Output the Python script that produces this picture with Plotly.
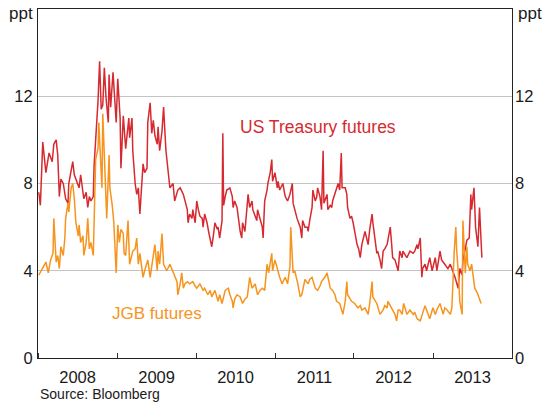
import pandas as pd
import plotly.graph_objects as go

# Dates as decimal years, values in percentage points
us_dates = [2008.01, 2008.03, 2008.06, 2008.10, 2008.14, 2008.18, 2008.20, 2008.23, 2008.25, 2008.27,
            2008.29, 2008.32, 2008.35, 2008.38, 2008.39, 2008.44, 2008.46, 2008.49, 2008.52, 2008.54,
            2008.58, 2008.61, 2008.63, 2008.65, 2008.67, 2008.70, 2008.71, 2008.73, 2008.76, 2008.78,
            2008.80, 2008.82, 2008.84, 2008.86, 2008.89, 2008.90, 2008.92, 2008.95, 2008.96, 2008.99,
            2009.01, 2009.04, 2009.05, 2009.08, 2009.11, 2009.14, 2009.15, 2009.16, 2009.19, 2009.20,
            2009.23, 2009.25, 2009.27, 2009.29, 2009.32, 2009.33, 2009.35, 2009.38, 2009.39, 2009.42,
            2009.44, 2009.46, 2009.48, 2009.51, 2009.52, 2009.54, 2009.57, 2009.59, 2009.62, 2009.65,
            2009.67, 2009.71, 2009.73, 2009.77, 2009.80, 2009.84, 2009.86, 2009.89, 2009.90, 2009.92,
            2009.95, 2009.96, 2009.99, 2010.01, 2010.03, 2010.05, 2010.08, 2010.09, 2010.11, 2010.14,
            2010.16, 2010.18, 2010.20, 2010.22, 2010.24, 2010.27, 2010.28, 2010.30, 2010.33, 2010.34,
            2010.35, 2010.37, 2010.39, 2010.43, 2010.46, 2010.47, 2010.49, 2010.52, 2010.54, 2010.56,
            2010.58, 2010.59, 2010.62, 2010.66, 2010.68, 2010.71, 2010.72, 2010.75, 2010.77, 2010.78,
            2010.81, 2010.84, 2010.85, 2010.87, 2010.90, 2010.91, 2010.94, 2010.96, 2010.97, 2011.00,
            2011.03, 2011.04, 2011.06, 2011.10, 2011.13, 2011.16, 2011.19, 2011.22, 2011.23, 2011.25,
            2011.28, 2011.32, 2011.34, 2011.35, 2011.38, 2011.41, 2011.42, 2011.44, 2011.47, 2011.48,
            2011.51, 2011.53, 2011.54, 2011.57, 2011.59, 2011.61, 2011.62, 2011.66, 2011.67, 2011.70,
            2011.72, 2011.73, 2011.76, 2011.78, 2011.80, 2011.82, 2011.84, 2011.85, 2011.89, 2011.91,
            2011.92, 2011.95, 2011.97, 2011.99, 2012.01, 2012.04, 2012.06, 2012.08, 2012.10, 2012.14,
            2012.16, 2012.18, 2012.20, 2012.23, 2012.24, 2012.27, 2012.29, 2012.30, 2012.33, 2012.35,
            2012.37, 2012.39, 2012.42, 2012.44, 2012.46, 2012.48, 2012.49, 2012.52, 2012.54, 2012.56,
            2012.58, 2012.61, 2012.62, 2012.65, 2012.67, 2012.71, 2012.75, 2012.77, 2012.80, 2012.81,
            2012.84, 2012.86, 2012.87, 2012.90, 2012.92, 2012.96, 2012.99, 2013.03, 2013.05, 2013.09,
            2013.11, 2013.15, 2013.19, 2013.22, 2013.24, 2013.28, 2013.32, 2013.34, 2013.37, 2013.38,
            2013.41, 2013.43, 2013.46, 2013.48, 2013.49, 2013.52, 2013.54, 2013.57, 2013.59, 2013.62]
us_vals = [7.6, 7.0, 9.9, 8.5, 9.4, 9.0, 9.8, 10.0, 9.3, 7.4,
           8.2, 8.0, 7.3, 7.1, 8.0, 9.0, 8.4, 8.1, 7.8, 8.4,
           7.3, 7.6, 6.9, 7.4, 7.2, 7.4, 8.8, 10.0, 11.8, 13.6,
           11.4, 11.6, 13.3, 12.0, 10.8, 13.0, 11.5, 13.1, 12.5, 10.8,
           12.8, 11.0, 8.7, 11.1, 9.6, 10.6, 11.0, 10.1, 11.0, 9.5,
           8.0, 7.5, 7.8, 6.6, 8.0, 8.9, 8.5, 8.7, 10.8, 11.7,
           10.3, 10.9, 10.2, 9.8, 10.6, 9.5, 10.4, 11.5, 9.5, 8.3,
           7.8, 8.0, 7.2, 7.7, 7.8, 7.5, 7.2, 6.8, 6.2, 6.6,
           6.4, 6.8, 6.2, 7.2, 6.8, 6.5, 6.4, 6.0, 6.6, 6.2,
           5.8, 5.4, 5.1, 5.6, 6.2, 5.9, 6.0, 5.5, 6.3, 10.3,
           7.0, 7.4, 7.7, 7.8, 7.4, 6.9, 7.2, 6.9, 6.3, 5.8,
           5.5, 6.2, 5.8, 7.5, 6.9, 7.2, 6.8, 6.5, 6.3, 6.8,
           6.4, 6.0, 5.5, 7.2, 7.7, 8.0, 8.5, 9.1, 8.1, 8.5,
           7.8, 8.1, 7.7, 8.0, 7.4, 7.2, 7.5, 8.0, 7.1, 6.8,
           6.4, 6.0, 5.5, 6.3, 6.0, 6.0, 5.8, 6.3, 6.9, 7.7,
           7.2, 7.4, 7.8, 7.4, 6.8, 9.5, 7.1, 7.5, 6.8, 7.0,
           6.9, 7.2, 7.5, 7.8, 8.0, 7.7, 9.4, 7.8, 7.8, 7.5,
           6.9, 6.4, 6.5, 6.2, 5.8, 5.2, 5.0, 4.6, 5.2, 5.8,
           5.5, 5.2, 5.9, 6.6, 6.2, 5.4, 4.8, 4.9, 4.5, 4.1,
           4.9, 5.0, 5.2, 5.6, 6.0, 5.1, 4.6, 4.5, 4.3, 4.0,
           4.9, 4.6, 4.9, 4.7, 4.6, 4.9, 4.8, 4.9, 5.2, 5.0,
           5.5, 3.7, 4.1, 4.3, 4.0, 4.6, 4.0, 4.6, 4.0, 4.9,
           4.5, 4.3, 4.1, 4.3, 4.1, 3.7, 3.2, 4.1, 3.8, 4.5,
           5.0, 5.4, 5.5, 7.5, 6.8, 7.8, 6.0, 5.1, 6.9, 4.6]

jgb_dates = [2008.01, 2008.04, 2008.06, 2008.10, 2008.13, 2008.16, 2008.19, 2008.20, 2008.23, 2008.25,
             2008.27, 2008.29, 2008.32, 2008.34, 2008.35, 2008.38, 2008.39, 2008.42, 2008.44, 2008.46,
             2008.48, 2008.51, 2008.52, 2008.54, 2008.57, 2008.58, 2008.61, 2008.63, 2008.65, 2008.67,
             2008.70, 2008.71, 2008.73, 2008.76, 2008.77, 2008.80, 2008.81, 2008.82, 2008.85, 2008.87,
             2008.90, 2008.91, 2008.94, 2008.95, 2008.96, 2008.99, 2009.01, 2009.03, 2009.05, 2009.08,
             2009.09, 2009.11, 2009.14, 2009.15, 2009.16, 2009.20, 2009.23, 2009.25, 2009.27, 2009.29,
             2009.33, 2009.35, 2009.39, 2009.42, 2009.46, 2009.48, 2009.51, 2009.52, 2009.54, 2009.57,
             2009.59, 2009.63, 2009.67, 2009.71, 2009.73, 2009.76, 2009.77, 2009.80, 2009.82, 2009.84,
             2009.86, 2009.89, 2009.92, 2009.96, 2009.99, 2010.01, 2010.05, 2010.09, 2010.11, 2010.15,
             2010.18, 2010.20, 2010.24, 2010.28, 2010.30, 2010.33, 2010.37, 2010.41, 2010.43, 2010.46,
             2010.47, 2010.49, 2010.52, 2010.56, 2010.59, 2010.62, 2010.65, 2010.68, 2010.71, 2010.75,
             2010.78, 2010.81, 2010.84, 2010.87, 2010.90, 2010.92, 2010.96, 2010.97, 2011.00, 2011.03,
             2011.04, 2011.06, 2011.09, 2011.13, 2011.16, 2011.19, 2011.20, 2011.23, 2011.25, 2011.29,
             2011.32, 2011.34, 2011.38, 2011.42, 2011.44, 2011.47, 2011.51, 2011.54, 2011.57, 2011.59,
             2011.63, 2011.66, 2011.70, 2011.73, 2011.76, 2011.78, 2011.82, 2011.86, 2011.89, 2011.91,
             2011.92, 2011.95, 2011.97, 2012.01, 2012.05, 2012.08, 2012.10, 2012.14, 2012.18, 2012.20,
             2012.23, 2012.24, 2012.27, 2012.29, 2012.33, 2012.37, 2012.39, 2012.42, 2012.43, 2012.46,
             2012.48, 2012.52, 2012.54, 2012.56, 2012.58, 2012.61, 2012.63, 2012.67, 2012.71, 2012.75,
             2012.77, 2012.80, 2012.84, 2012.87, 2012.90, 2012.92, 2012.96, 2013.00, 2013.03, 2013.05,
             2013.09, 2013.13, 2013.15, 2013.18, 2013.22, 2013.24, 2013.25, 2013.27, 2013.29, 2013.30,
             2013.32, 2013.34, 2013.37, 2013.38, 2013.41, 2013.43, 2013.44, 2013.47, 2013.49, 2013.51,
             2013.53, 2013.56, 2013.57, 2013.59, 2013.61]
jgb_vals = [3.8, 4.0, 4.2, 4.4, 3.9, 4.5, 4.8, 6.4, 4.4, 4.7,
            4.1, 5.1, 4.7, 5.5, 6.4, 7.1, 6.7, 7.8, 8.0, 7.3,
            6.2, 5.6, 6.1, 5.3, 5.6, 4.7, 5.3, 6.4, 5.0, 5.3,
            4.7, 6.7, 9.1, 9.6, 10.8, 8.5, 7.8, 11.2, 8.0, 6.4,
            9.3, 7.8, 7.0, 6.5, 6.2, 3.9, 6.1, 5.3, 5.9, 5.7,
            4.8, 4.7, 6.3, 5.3, 4.3, 4.9, 5.0, 5.5, 4.3, 4.8,
            3.7, 4.0, 4.5, 3.7, 4.6, 5.2, 4.0, 4.9, 4.3, 5.7,
            4.3, 4.0, 4.3, 3.9, 3.7, 3.5, 2.9, 3.4, 3.9, 3.2,
            3.4, 3.5, 3.4, 3.5, 3.3, 3.2, 3.4, 3.1, 3.2, 2.9,
            3.1, 2.8, 3.1, 2.6, 2.9, 2.5, 3.1, 3.2, 2.9, 2.6,
            2.3, 2.7, 2.9, 2.8, 2.5, 2.7, 2.8, 3.7, 3.2, 3.4,
            2.9, 3.1, 3.2, 3.1, 4.3, 3.9, 4.8, 4.0, 4.5, 4.1,
            3.9, 3.7, 3.4, 3.7, 3.4, 4.2, 6.0, 3.9, 4.0, 3.4,
            2.8, 2.9, 3.6, 3.4, 3.6, 3.7, 3.2, 3.1, 3.3, 3.5,
            3.7, 3.9, 3.2, 3.1, 2.9, 2.6, 2.5, 2.0, 2.6, 3.5,
            2.9, 2.7, 2.6, 2.5, 2.3, 2.4, 2.2, 2.3, 2.0, 2.5,
            3.5, 2.8, 2.6, 2.5, 2.0, 2.2, 2.4, 2.3, 2.6, 2.4,
            2.3, 2.0, 1.7, 2.2, 2.2, 2.0, 2.5, 2.0, 2.2, 2.0,
            2.1, 1.8, 1.7, 2.0, 2.4, 2.2, 1.8, 2.3, 2.0, 2.2,
            2.5, 2.0, 2.3, 2.2, 2.0, 2.3, 3.5, 4.9, 6.0, 5.0,
            4.0, 2.6, 2.0, 6.3, 3.9, 5.1, 4.3, 4.0, 4.3, 3.7,
            3.2, 3.0, 2.9, 2.8, 2.5]

y_ticks = [0, 4, 8, 12]
y_range = [0, 16]
x_range = ["2008-01-01", "2014-01-01"]

RED = "#d62a30"
ORANGE = "#f7941d"
FONT = "Liberation Sans, Arial, sans-serif"
TEXT = "#1a1a1a"


def to_dates(dec_years):
    base = pd.Timestamp("2008-01-01")
    return [base + pd.Timedelta(days=(d - 2008) * 365.25) for d in dec_years]


fig = go.Figure()
fig.add_trace(go.Scatter(x=to_dates(us_dates), y=us_vals, mode="lines",
                         line=dict(color=RED, width=1.5), name="US Treasury futures",
                         showlegend=False, yaxis="y"))
fig.add_trace(go.Scatter(x=to_dates(jgb_dates), y=jgb_vals, mode="lines",
                         line=dict(color=ORANGE, width=1.5), name="JGB futures",
                         showlegend=False, yaxis="y2"))

tickfont = dict(family=FONT, size=16.5, color=TEXT)

fig.update_layout(
    template="none",
    width=544, height=406,
    margin=dict(l=38, r=32, t=9, b=48, autoexpand=False),
    paper_bgcolor="white", plot_bgcolor="white",
    font=dict(family=FONT, color=TEXT),
    showlegend=False,
    xaxis=dict(type="date", range=x_range, dtick="M12", tick0="2008-01-01",
               ticklabelmode="period", tickformat="%Y", ticks="inside", ticklen=5,
               tickcolor="#333", showline=True, linecolor="#222", linewidth=1,
               mirror=True, showgrid=False, zeroline=False, tickfont=tickfont,
               ticklabelstandoff=4, automargin=False),
    yaxis=dict(range=y_range, tickvals=y_ticks, showgrid=True, gridcolor="#c4c4c4",
               gridwidth=1, showline=True, linecolor="#222", linewidth=1, mirror=True,
               ticks="", zeroline=False, tickfont=tickfont, ticklabelstandoff=1,
               automargin=False),
    yaxis2=dict(range=y_range, tickvals=y_ticks, overlaying="y", side="right",
                showgrid=False, zeroline=False, showline=False, ticks="",
                tickfont=tickfont, ticklabelstandoff=2, automargin=False),
)

fig.add_annotation(text="ppt", xref="paper", yref="y", x=0, y=16, xanchor="right",
                   yanchor="middle", xshift=-3, yshift=-4, showarrow=False,
                   font=dict(family=FONT, size=17, color=TEXT))
fig.add_annotation(text="ppt", xref="paper", yref="y", x=1, y=16, xanchor="left",
                   yanchor="middle", xshift=4, yshift=-4, showarrow=False,
                   font=dict(family=FONT, size=17, color=TEXT))
fig.add_annotation(text="US Treasury futures", xref="x", yref="y", x="2011-07-19", y=10.6,
                   showarrow=False, font=dict(family=FONT, size=17.5, color=RED))
fig.add_annotation(text="JGB futures", xref="x", yref="y", x="2009-07-05", y=2.06,
                   showarrow=False, font=dict(family=FONT, size=17, color=ORANGE))
fig.add_annotation(text="Source: Bloomberg", xref="paper", yref="paper", x=0, y=-0.103,
                   xanchor="left", yanchor="middle", showarrow=False,
                   font=dict(family=FONT, size=14, color=TEXT))

fig.write_html("out.html",
               config={"displayModeBar": False},
               post_script="document.body.style.margin='0';document.body.style.overflow='hidden';")
